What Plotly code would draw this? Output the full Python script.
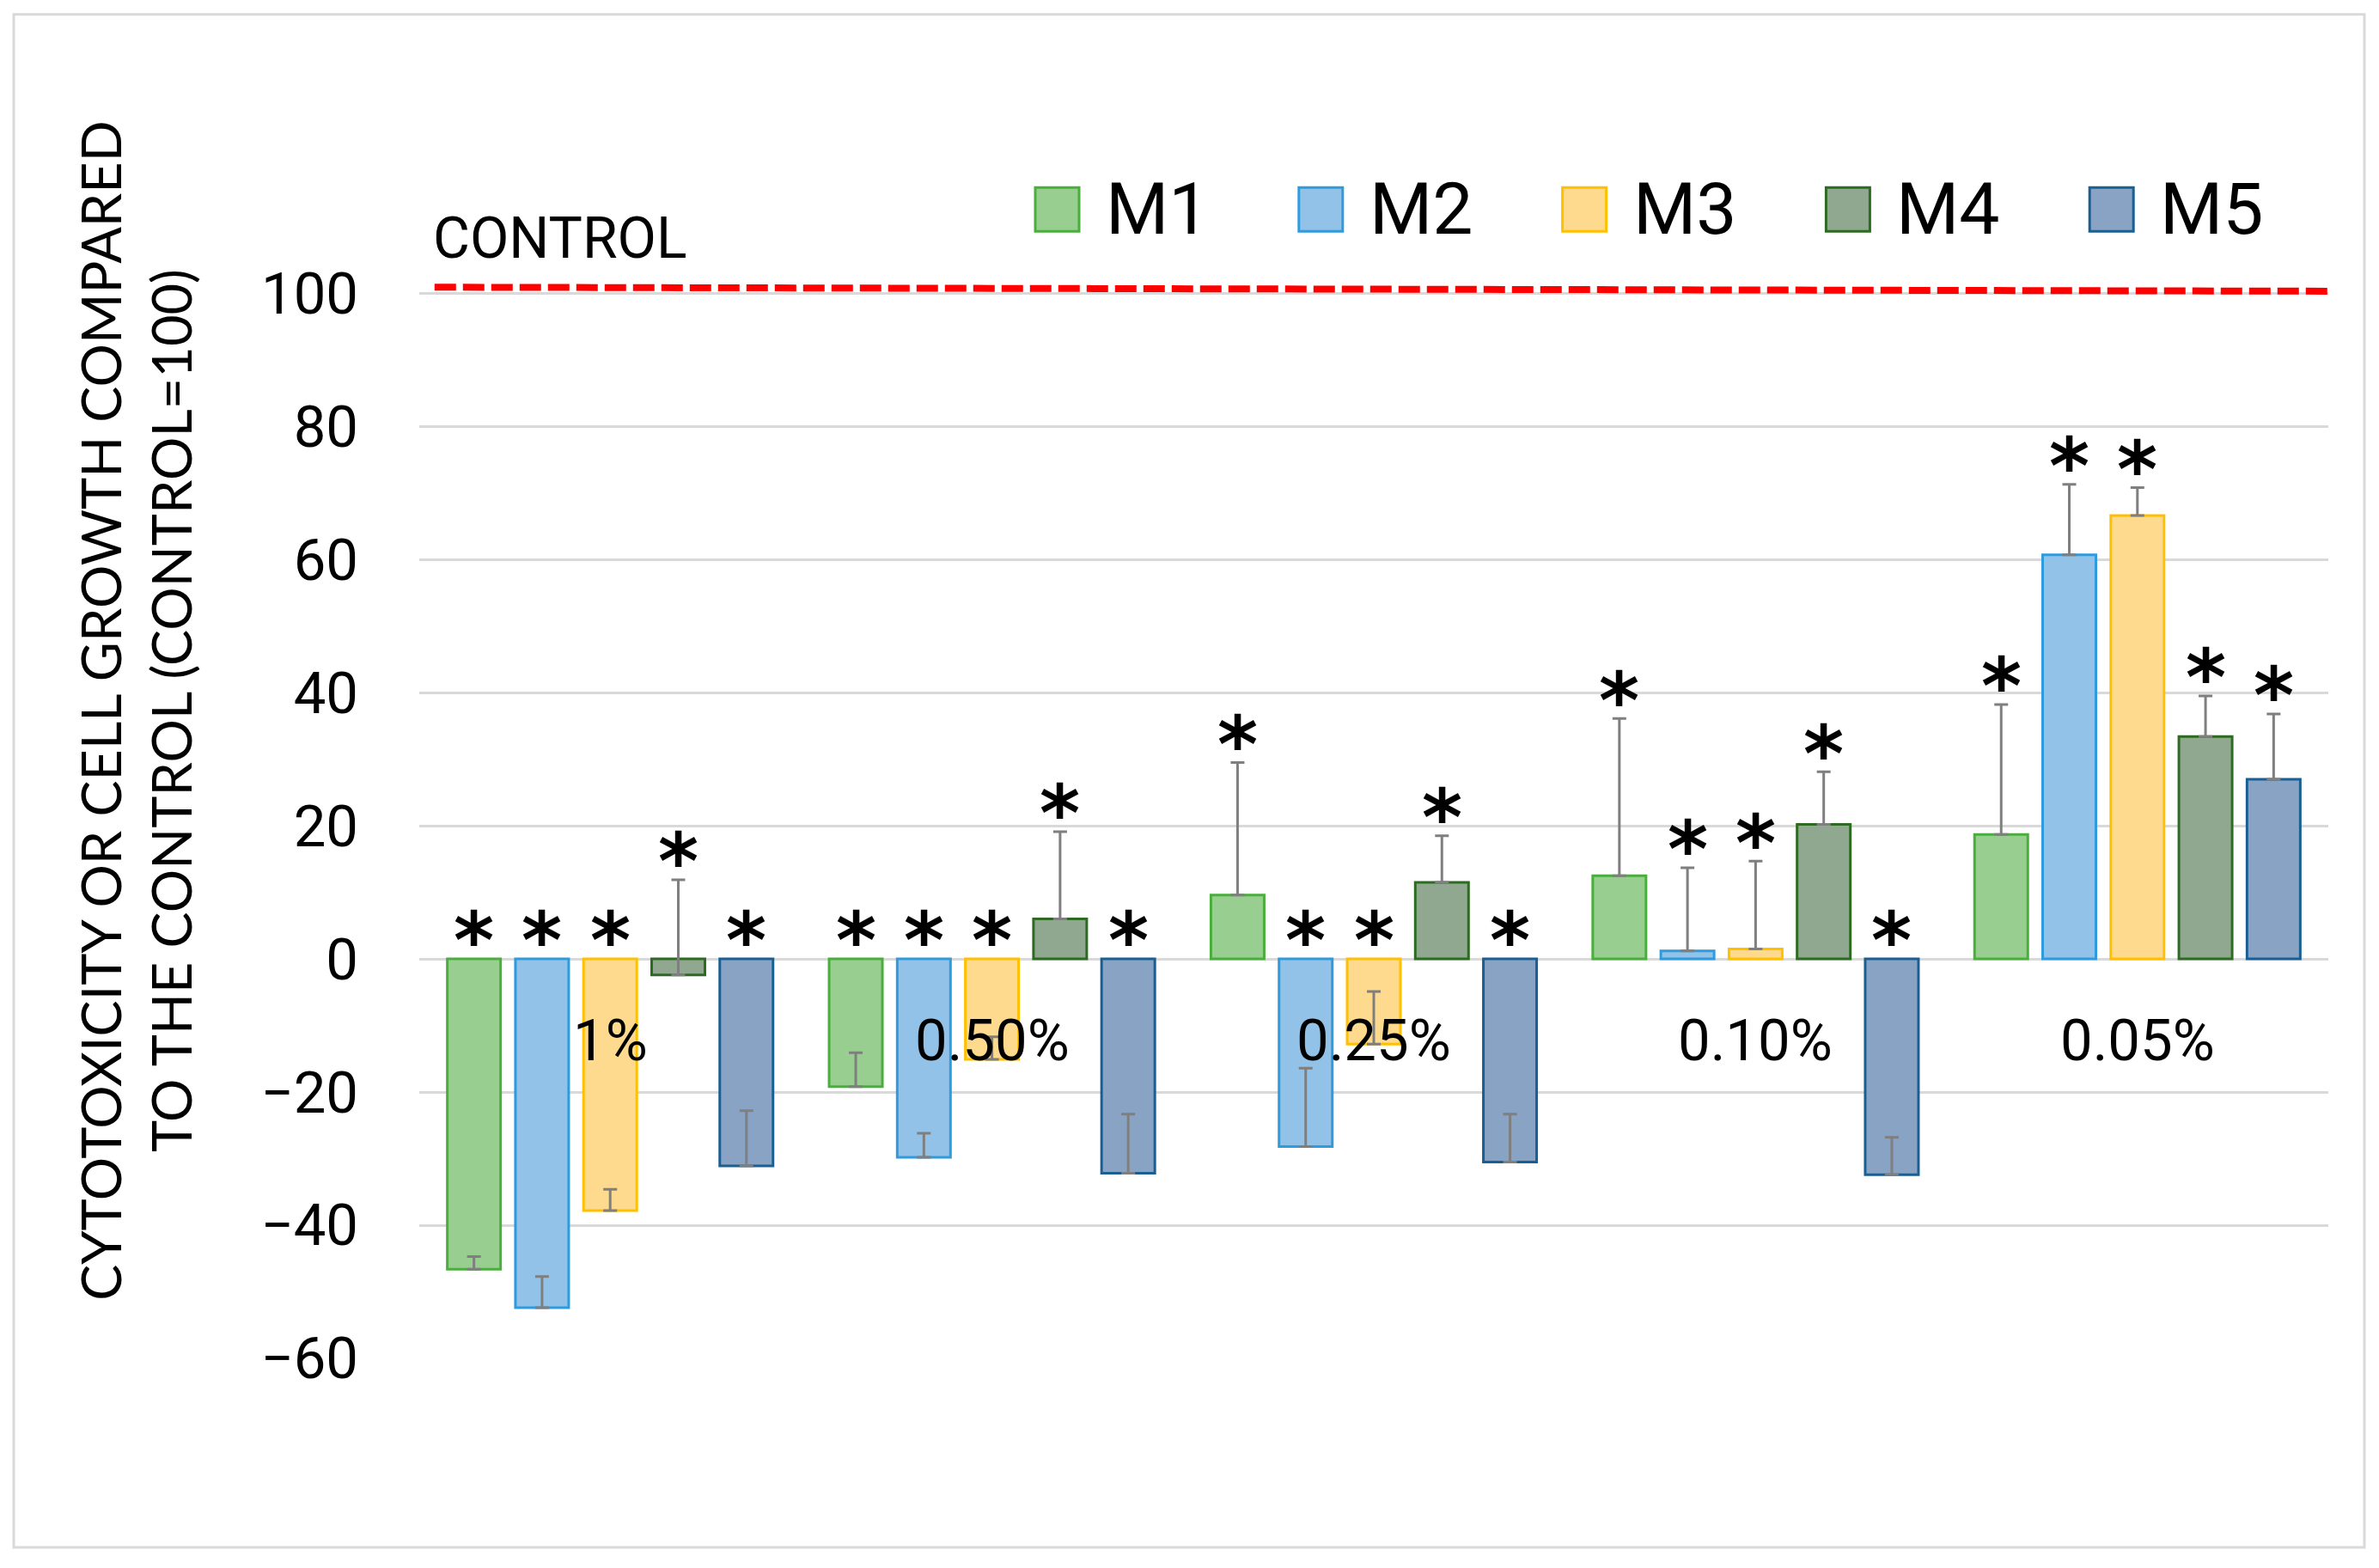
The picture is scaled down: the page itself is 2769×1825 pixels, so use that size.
import plotly.graph_objects as go

# ---------------- data ----------------
categories = ["1%", "0.50%", "0.25%", "0.10%", "0.05%"]
series_names = ["M1", "M2", "M3", "M4", "M5"]

m1 = [-46.6, -19.2, 9.6, 12.5, 18.7]
m2 = [-52.4, -29.8, -28.2, 1.2, 60.7]
m3 = [-37.8, -15.1, -12.8, 1.5, 66.6]
m4 = [-2.4, 6.0, 11.5, 20.2, 33.4]
m5 = [-31.1, -32.2, -30.5, -32.4, 27.0]

m1_err = [1.9, 5.1, 19.9, 23.6, 19.5]
m2_err = [4.7, 3.6, 11.8, 12.5, 10.6]
m3_err = [3.2, 3.4, 7.9, 13.2, 4.2]
m4_err = [14.3, 13.1, 7.0, 7.9, 6.1]
m5_err = [8.3, 8.9, 7.2, 5.6, 9.8]

control_value = 100
y_ticks = [-60, -40, -20, 0, 20, 40, 60, 80, 100]

values = [m1, m2, m3, m4, m5]
errors = [m1_err, m2_err, m3_err, m4_err, m5_err]

fill_colors = ["#98cf90", "#93c2e8", "#fdda8d", "#90a88f", "#88a3c4"]
line_colors = ["#4aae3c", "#2f9bdc", "#ffc000", "#2d6a22", "#1a5f93"]

W, H = 2769, 1825
PL, PR = 488, 2710          # plot area x pixels
PT, PB = 318.25, 1581       # plot area y pixels
Y0, Y1 = -60, 103

def px_to_paper_x(px):
    return (px - PL) / (PR - PL)

def px_to_paper_y(py):
    return (PB - py) / (PB - PT)

fig = go.Figure()

for name, vals, errs, fc, lc in zip(series_names, values, errors, fill_colors, line_colors):
    fig.add_trace(go.Bar(
        x=categories, y=vals, name=name,
        marker=dict(color=fc, line=dict(color=lc, width=3)),
        error_y=dict(type="data", array=errs, arrayminus=[0] * len(errs),
                     symmetric=False, color="#7f7f7f", thickness=3, width=8),
        showlegend=False,
    ))

annotations = []
# significance asterisks
n_series = len(series_names)
bargap, bargroupgap = 0.108, 0.218
slot = (1 - bargap) / n_series
for si, (vals, errs) in enumerate(zip(values, errors)):
    for ci, (v, e) in enumerate(zip(vals, errs)):
        xpos = ci - (1 - bargap) / 2 + slot * (si + 0.5)
        top = max(v + e, 0)
        annotations.append(dict(
            x=xpos, y=top + 4.8, xref="x", yref="y", text="*", showarrow=False,
            font=dict(family="DejaVu Sans", size=90, color="black", weight="bold"),
            xanchor="center", yanchor="middle", yshift=-16,
        ))

# category labels inside the plot
for c in categories:
    annotations.append(dict(
        x=c, y=-12.3, xref="x", yref="y", text=c, showarrow=False,
        font=dict(family="Roboto", size=67, color="black"),
        xanchor="center", yanchor="middle",
    ))

# CONTROL label
annotations.append(dict(
    x=px_to_paper_x(502), y=px_to_paper_y(278), xref="paper", yref="paper",
    text="CONTROL", showarrow=False, xanchor="left", yanchor="middle",
    font=dict(family="Roboto", size=66, color="black"),
))

# y-axis title
annotations.append(dict(
    x=px_to_paper_x(158), y=px_to_paper_y(828), xref="paper", yref="paper",
    text="CYTOTOXICITY OR CELL GROWTH COMPARED<br>TO THE CONTROL (CONTROL=100)",
    showarrow=False, textangle=-90, xanchor="center", yanchor="middle",
    font=dict(family="Lato", size=63, color="black"),
))

shapes = []
# outer frame
shapes.append(dict(type="rect", xref="paper", yref="paper",
                   x0=px_to_paper_x(16), x1=px_to_paper_x(2752),
                   y0=px_to_paper_y(1801), y1=px_to_paper_y(17),
                   line=dict(color="#d9d9d9", width=3), fillcolor="rgba(0,0,0,0)",
                   layer="below"))
# control dashed line
shapes.append(dict(type="line", xref="x", yref="y",
                   x0=-0.46, x1=4.5, y0=control_value + 0.9, y1=control_value + 0.3,
                   line=dict(color="#ff0000", width=8, dash="25px,8px")))

# manual legend
leg_left0, leg_step, sq = 1205, 306.8, 51
leg_cy = 244
for i, (name, fc, lc) in enumerate(zip(series_names, fill_colors, line_colors)):
    lx = leg_left0 + i * leg_step
    shapes.append(dict(type="rect", xref="paper", yref="paper",
                       x0=px_to_paper_x(lx), x1=px_to_paper_x(lx + sq),
                       y0=px_to_paper_y(leg_cy + sq / 2), y1=px_to_paper_y(leg_cy - sq / 2),
                       fillcolor=fc, line=dict(color=lc, width=3)))
    annotations.append(dict(
        x=px_to_paper_x(lx + 80), y=px_to_paper_y(leg_cy), xref="paper", yref="paper",
        text=name, showarrow=False, xanchor="left", yanchor="middle",
        font=dict(family="Roboto", size=84, color="black"),
    ))

fig.update_layout(
    width=W, height=H,
    margin=dict(l=PL, r=W - PR, t=PT, b=H - PB, pad=0),
    paper_bgcolor="white", plot_bgcolor="white",
    barmode="group", bargap=bargap, bargroupgap=bargroupgap,
    annotations=annotations, shapes=shapes,
    showlegend=False,
    xaxis=dict(type="category", range=[-0.5, 4.5], showticklabels=False,
               showgrid=False, zeroline=False, showline=False, ticks=""),
    yaxis=dict(range=[Y0, Y1], tickvals=y_ticks, showgrid=True,
               gridcolor="#d9d9d9", gridwidth=3, zeroline=False, showline=False,
               ticks="", ticklabelstandoff=70,
               tickfont=dict(family="Roboto", size=67, color="black")),
)

fig.write_html("out.html", config={"displayModeBar": False},
               post_script="document.body.style.margin='0px';")
